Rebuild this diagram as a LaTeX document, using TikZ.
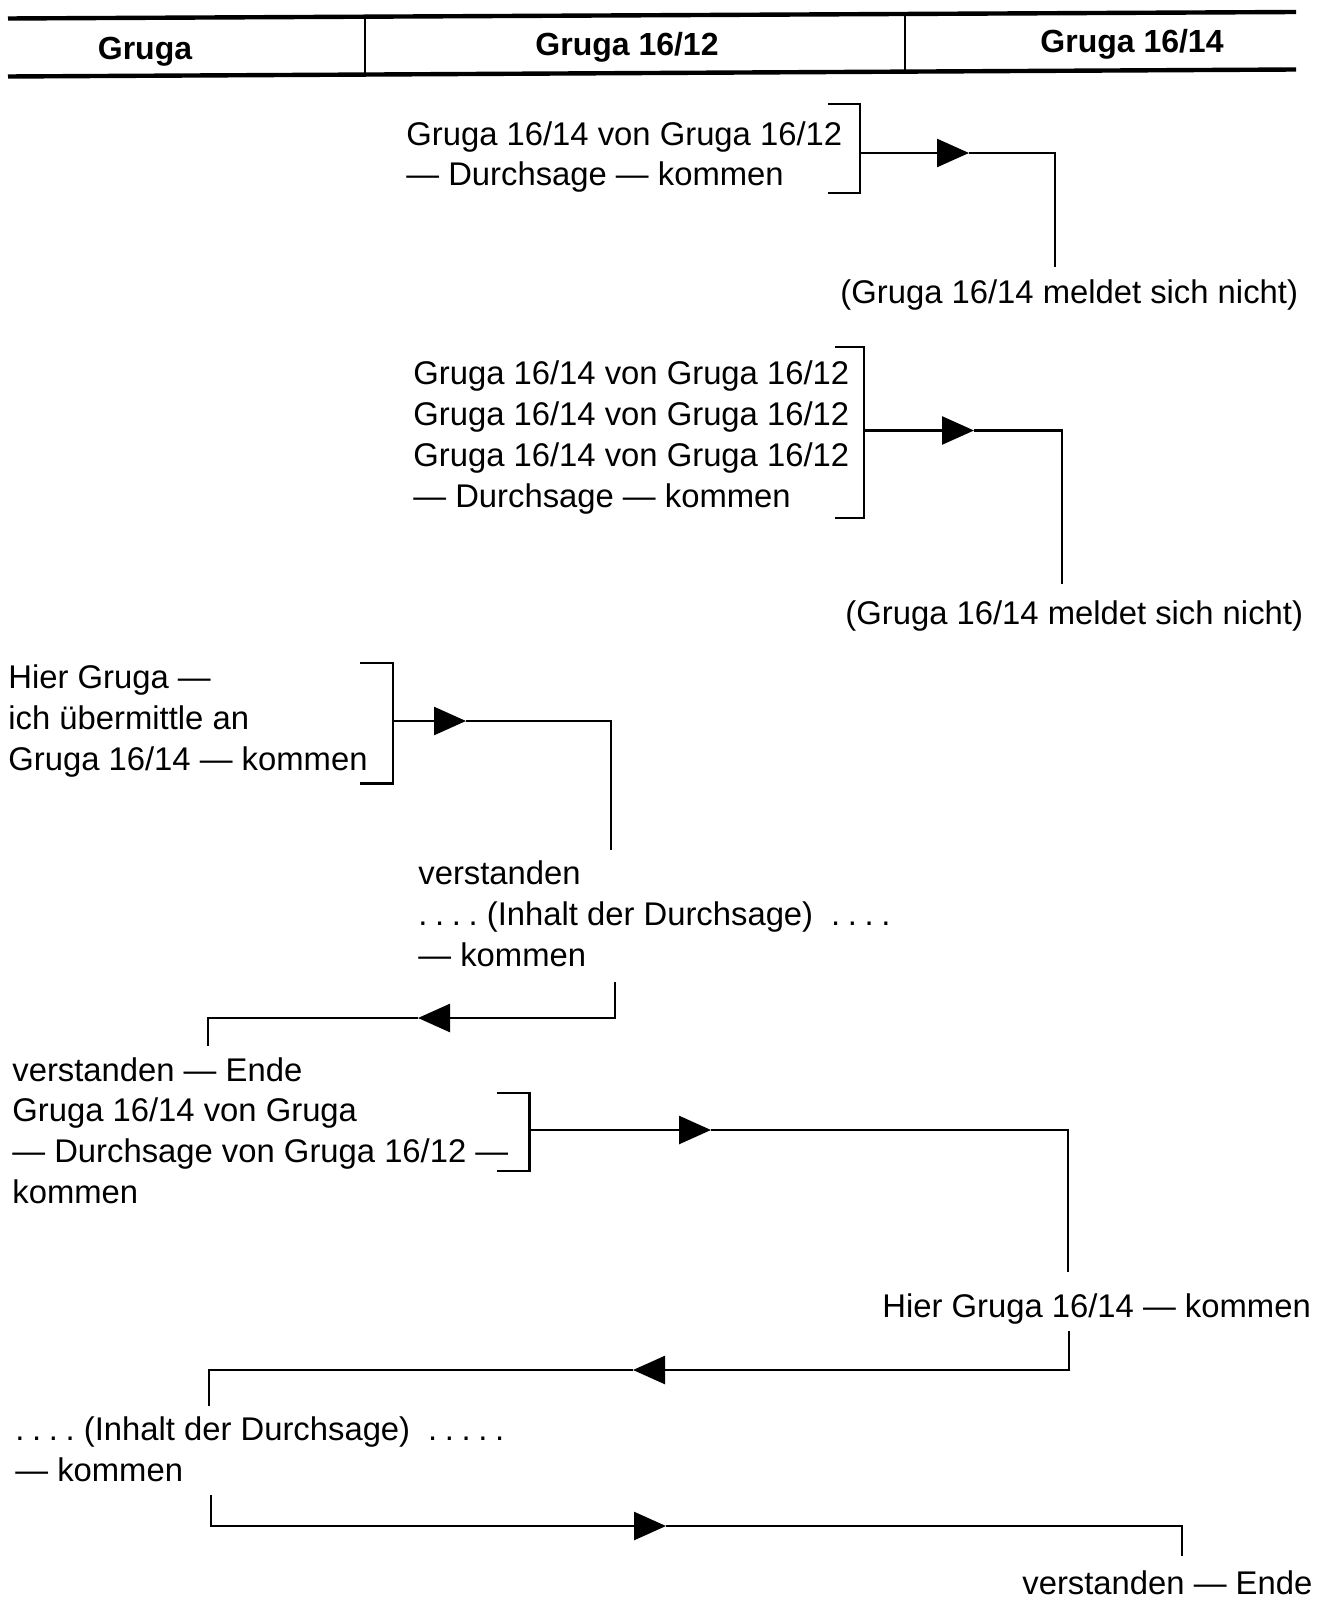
\documentclass[tikz,border=0pt]{standalone}
\usepackage{fontspec}
\setmainfont{Liberation Sans}
\usetikzlibrary{arrows.meta}
% spaced dot used in the ellipsis runs
\newcommand\pk{.\kern3.8pt}
\begin{document}
\begin{tikzpicture}[x=0.5pt,y=-0.5pt,
  % multi-line nodes sit on the baseline of their last line
  txt/.style={inner sep=0pt, anchor=base west, align=left,
    font=\fontsize{16.4}{20.4}\selectfont},
  head/.style={inner sep=0pt, anchor=base,
    font=\fontsize{16}{19}\selectfont\bfseries},
  rule/.style={line width=2.2pt},
  thin/.style={line width=1.1pt},
  link/.style={line width=1.3pt},
  tip/.style={-{Triangle[length=16pt,width=14pt]}, line width=1.3pt},
]
\useasboundingbox (0,0) rectangle (1316,1599);

% header table
\draw[rule] (8,18.5) -- (1296,12);
\draw[rule] (8,76.5) -- (1296,69.5);
\draw[thin] (365,17) -- (365,76);
\draw[thin] (905,14.5) -- (905,73);
\node[head] (h1) at (145,60) {Gruga};
\node[head] (h2) at (627,56) {Gruga 16/12};
\node[head] (h3) at (1132,53) {Gruga 16/14};

% messages
\node[txt] (a1) at (406,186) {Gruga 16/14 von Gruga 16/12\\— Durchsage — kommen};
\node[txt] (r1) at (840,304) {(Gruga 16/14 meldet sich nicht)};
\node[txt] (a2) at (413,507) {Gruga 16/14 von Gruga 16/12\\Gruga 16/14 von Gruga 16/12\\Gruga 16/14 von Gruga 16/12\\— Durchsage — kommen};
\node[txt] (r2) at (845,624) {(Gruga 16/14 meldet sich nicht)};
\node[txt] (a3) at (8,770.5) {Hier Gruga —\\ich übermittle an\\Gruga 16/14 — kommen};
\node[txt] (b4) at (418,966.5) {verstanden\\\pk\pk\pk.\kern4.6pt(Inhalt der Durchsage)\kern9pt\pk\pk\pk.\\— kommen};
\node[txt] (a5) at (12,1203.5) {verstanden — Ende\\Gruga 16/14 von Gruga\\— Durchsage von Gruga 16/12 —\\kommen};
\node[txt] (r5) at (882,1317) {Hier Gruga 16/14 — kommen};
\node[txt] (a6) at (15,1481) {\pk\pk\pk.\kern4.6pt(Inhalt der Durchsage)\kern9pt\pk\pk\pk\pk.\\— kommen};
\node[txt] (r6) at (1022,1594) {verstanden — Ende};

% brackets
\draw[thin] (828,104) -- (860,104) -- (860,193) -- (828,193);
\draw[thin] (835,347) -- (864,347) -- (864,518) -- (835,518);
\draw[thin] (360,663) -- (393,663) -- (393,783.5) -- (360,783.5);
\draw[thin] (497,1093) -- (529.5,1093) -- (529.5,1171) -- (497,1171);

% connector points
\coordinate (k1) at (860,153);   \coordinate (t1) at (969,153);
\coordinate (c1) at (1055,153);  \coordinate (e1) at (1055,267);
\coordinate (k2) at (864,430.5); \coordinate (t2) at (974,430.5);
\coordinate (c2) at (1062,430.5);\coordinate (e2) at (1062,584);
\coordinate (k3) at (393,721);   \coordinate (t3) at (466,721);
\coordinate (c3) at (611,721);   \coordinate (e3) at (611,850);
\coordinate (s4) at (615,982);   \coordinate (c4) at (615,1018);
\coordinate (t4) at (418,1018);  \coordinate (d4) at (208,1018);
\coordinate (e4) at (208,1046);
\coordinate (k5) at (529.5,1130);\coordinate (t5) at (711,1130);
\coordinate (c5) at (1068,1130); \coordinate (e5) at (1068,1272);
\coordinate (s6) at (1069,1331); \coordinate (c6) at (1069,1370);
\coordinate (t6) at (633,1370);  \coordinate (d6) at (209,1370);
\coordinate (e6) at (209,1406);
\coordinate (s7) at (211,1495);  \coordinate (c7) at (211,1526);
\coordinate (t7) at (666,1526);  \coordinate (d7) at (1182,1526);
\coordinate (e7) at (1182,1556);

% connectors
\draw[tip] (k1) -- (t1); \draw[link] (t1) -- (c1) -- (e1);
\draw[tip] (k2) -- (t2); \draw[link] (t2) -- (c2) -- (e2);
\draw[tip] (k3) -- (t3); \draw[link] (t3) -- (c3) -- (e3);
\draw[tip] (s4) -- (c4) -- (t4); \draw[link] (t4) -- (d4) -- (e4);
\draw[tip] (k5) -- (t5); \draw[link] (t5) -- (c5) -- (e5);
\draw[tip] (s6) -- (c6) -- (t6); \draw[link] (t6) -- (d6) -- (e6);
\draw[tip] (s7) -- (c7) -- (t7); \draw[link] (t7) -- (d7) -- (e7);
\end{tikzpicture}
\end{document}
